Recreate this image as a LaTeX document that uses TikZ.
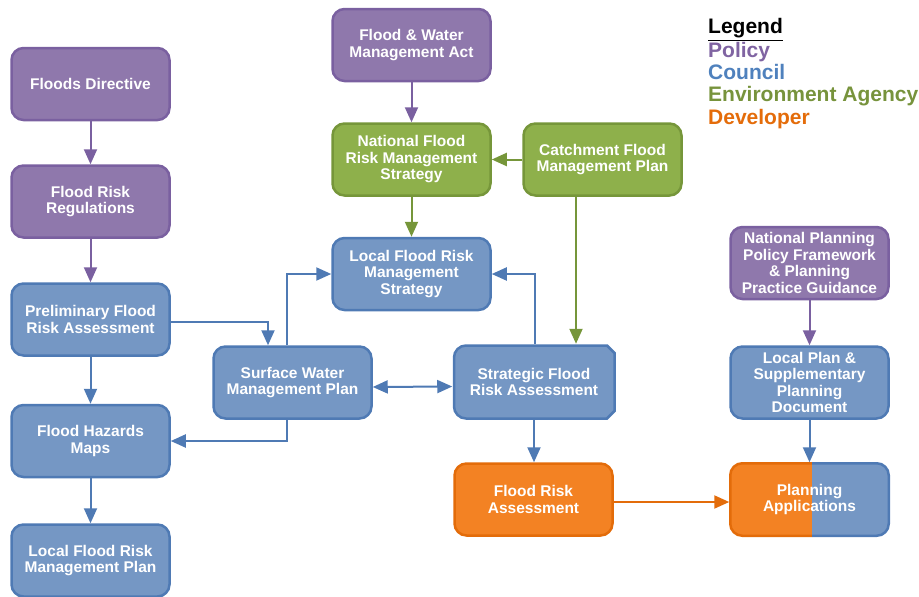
\documentclass[tikz,border=0pt]{standalone}
\usepackage{fontspec}
\setmainfont{Liberation Sans}
\usetikzlibrary{arrows.meta}
\definecolor{polF}{RGB}{143,120,172}
\definecolor{polD}{RGB}{122,96,160}
\definecolor{cncF}{RGB}{117,151,196}
\definecolor{cncD}{RGB}{79,122,180}
\definecolor{envF}{RGB}{142,176,75}
\definecolor{envD}{RGB}{118,150,58}
\definecolor{devF}{RGB}{243,130,35}
\definecolor{devD}{RGB}{227,108,10}
\definecolor{lgPol}{RGB}{128,100,162}
\definecolor{lgCnc}{RGB}{79,129,189}
\definecolor{lgEnv}{RGB}{119,147,60}
\definecolor{lgDev}{RGB}{228,108,10}
\begin{document}
\begin{tikzpicture}[x=1pt,y=-1pt,
  box/.style={rounded corners=12pt, line width=2.5pt, minimum width=158pt, minimum height=72pt,
    align=center, text=white, inner sep=1pt, font=\bfseries\fontsize{15.5pt}{16.5pt}\selectfont},
  pol/.style={box, fill=polF, draw=polD},
  cnc/.style={box, fill=cncF, draw=cncD},
  env/.style={box, fill=envF, draw=envD},
  dev/.style={box, fill=devF, draw=devD},
  bare/.style={box, draw=none, fill=none},
  arr/.style={line width=2pt, -{Triangle[length=15pt,width=13pt]}},
  dbl/.style={line width=2pt, {Triangle[length=15pt,width=13pt]}-{Triangle[length=15pt,width=13pt]}},
  lg/.style={anchor=base west, inner sep=0pt, font=\bfseries\fontsize{21pt}{22pt}\selectfont}
]
\useasboundingbox (0,0) rectangle (919,597);

% left column
\node[pol] (fd) at (90.5,84) {Floods Directive};
\node[pol] (frr) at (90.5,201.5) {Flood Risk\\Regulations};
\node[cnc] (pfra) at (90.5,319.5) {Preliminary Flood\\Risk Assessment};
\node[cnc] (fhm) at (90.5,441) {Flood Hazards\\Maps};
\node[cnc] (lfrmp) at (90.5,560.5) {Local Flood Risk\\Management Plan};

% middle
\node[pol] (fwma) at (411.5,45) {Flood \& Water\\Management Act};
\node[env] (nfrms) at (411.5,159.5) {National Flood\\Risk Management\\Strategy};
\node[cnc] (lfrms) at (411.5,274) {Local Flood Risk\\Management\\Strategy};
\node[env] (cfmp) at (602.5,159.5) {Catchment Flood\\Management Plan};
\node[cnc] (swmp) at (292.5,382.5) {Surface Water\\Management Plan};

% strategic flood risk assessment (rounded left, chamfered right corners)
\draw[line width=2.5pt, fill=cncF, draw=cncD, rounded corners=12pt]
  (534,345.5) -- (454,345.5) -- (454,418.5) -- (534,418.5) [sharp corners]
  -- (607,418.5) -- (614.5,411) -- (614.5,353) -- (607,345.5) -- cycle;
\node[bare, minimum width=161pt, minimum height=74pt] (sfra) at (534,382) {Strategic Flood\\Risk Assessment};

\node[dev] (fra) at (533.5,499.5) {Flood Risk\\Assessment};

% right column
\node[pol] (nppf) at (809.5,263) {National Planning\\Policy Framework\\\& Planning\\Practice Guidance};
\node[cnc] (lpspd) at (809.5,382.5) {Local Plan \&\\Supplementary\\Planning\\Document};

% planning applications: half developer, half council
\begin{scope}
  \clip (700,440) rectangle (812,560);
  \draw[line width=2.5pt, rounded corners=12pt, fill=devF, draw=devD] (730.25,463.25) rectangle (888.75,535.75);
\end{scope}
\begin{scope}
  \clip (812,440) rectangle (919,560);
  \draw[line width=2.5pt, rounded corners=12pt, fill=cncF, draw=cncD] (730.25,463.25) rectangle (888.75,535.75);
\end{scope}
\node[bare] (pa) at (809.5,499.5) {Planning\\Applications};

% legend
\node[lg, text=black] (lgh) at (708,34) {\underline{Legend}};
\node[lg, text=lgPol] (lg1) at (708,57) {Policy};
\node[lg, text=lgCnc] (lg2) at (708,79.5) {Council};
\node[lg, text=lgEnv] (lg3) at (708,101.5) {Environment Agency};
\node[lg, text=lgDev] (lg4) at (708,124) {Developer};

% connectors
\draw[arr, polD] (fd) -- (frr);
\draw[arr, polD] (frr) -- (pfra);
\draw[arr, cncD] (pfra) -- (fhm);
\draw[arr, cncD] (fhm) -- (lfrmp);
\draw[arr, cncD] ([yshift=-2.5pt]pfra.east) -| ([xshift=-24.5pt]swmp.north);
\draw[arr, cncD] ([xshift=-6pt]swmp.north) |- (lfrms.west);
\draw[arr, cncD] ([xshift=-6pt]swmp.south) |- (fhm.east);
\draw[dbl, cncD] ([yshift=-4.5pt]swmp.east) -- ([yshift=-4.5pt]sfra.west);
\draw[arr, cncD] ([xshift=1pt]sfra.north) |- (lfrms.east);
\draw[arr, envD] ([xshift=-26.5pt]cfmp.south) -- ([xshift=42pt]sfra.north);
\draw[arr, envD] (cfmp.west) -- (nfrms.east);
\draw[arr, polD] (fwma) -- (nfrms);
\draw[arr, envD] (nfrms) -- (lfrms);
\draw[arr, cncD] (sfra.south) -- (sfra.south |- fra.north);
\draw[arr, devD] ([yshift=-2.5pt]fra.east) -- ([yshift=-2.5pt]pa.west);
\draw[arr, polD] (nppf) -- (lpspd);
\draw[arr, cncD] (lpspd) -- (pa);
\end{tikzpicture}
\end{document}
